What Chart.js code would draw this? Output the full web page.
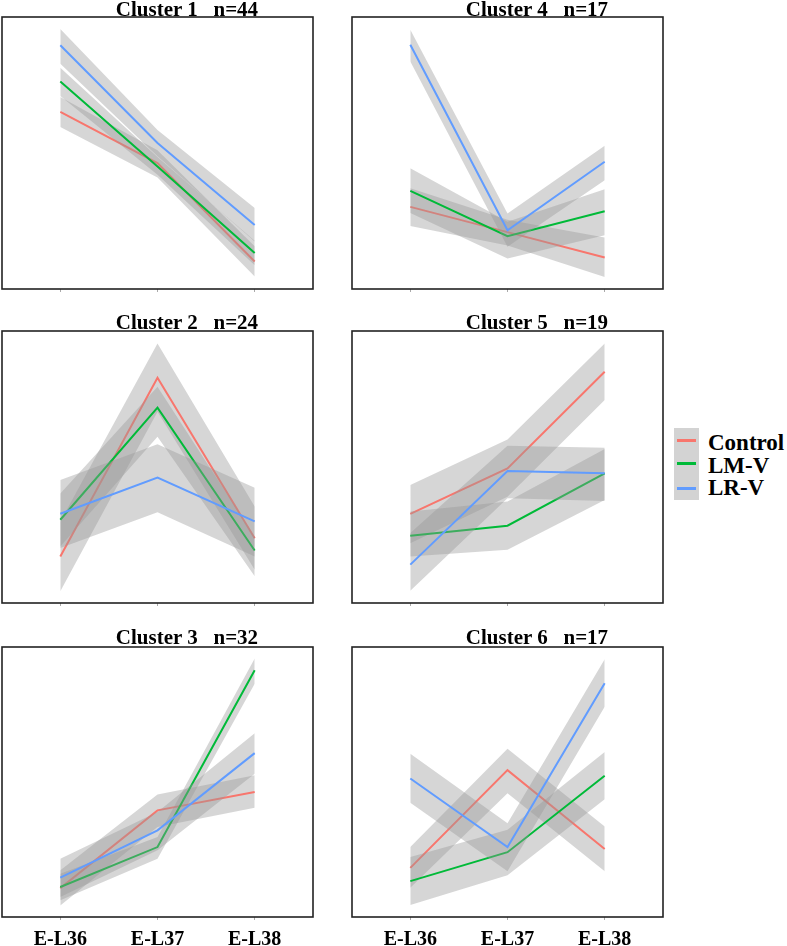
<!DOCTYPE html>
<html><head><meta charset="utf-8">
<script src="https://cdn.jsdelivr.net/npm/chart.js@4.4.1/dist/chart.umd.min.js"></script>
<style>
html,body{margin:0;padding:0;background:#fff;}
body{width:787px;height:946px;position:relative;overflow:hidden;font-family:"Liberation Serif","Times New Roman",serif;}
.title{position:absolute;font-weight:bold;font-size:21px;line-height:21px;white-space:pre;transform:translateX(-50%);color:#000;}
canvas{position:absolute;}
.lgtxt{position:absolute;font-weight:bold;font-size:23px;line-height:23px;white-space:pre;color:#000;}
.lgline{position:absolute;height:3px;width:19px;left:677px;}
</style></head><body>
<div id="root"></div>
<div style="position:absolute;left:674px;top:428px;width:25px;height:72px;background:rgb(211,211,211);"></div>
<div class="lgline" style="top:439px;background:#F8766D"></div>
<div class="lgline" style="top:462px;background:#00BA38"></div>
<div class="lgline" style="top:487px;background:#619CFF"></div>
<div class="lgtxt" style="left:708px;top:431px">Control</div>
<div class="lgtxt" style="left:708px;top:453.5px">LM-V</div>
<div class="lgtxt" style="left:708px;top:476px">LR-V</div>
<script>
// ---- data ----
const categories = ['E-L36', 'E-L37', 'E-L38'];
const seriesNames = ['Control', 'LM-V', 'LR-V'];
const clusterTitles = ['Cluster 1   n=44', 'Cluster 2   n=24', 'Cluster 3   n=32',
                       'Cluster 4   n=17', 'Cluster 5   n=19', 'Cluster 6   n=17'];

// each row: [Control, LM-V, LR-V], each value per category
const cluster1Mean  = [[6.51, 4.63, 1.01], [7.63, 4.50, 1.32], [8.96, 5.37, 2.35]];
const cluster1Lower = [[5.96, 4.10, 0.46], [7.10, 4.20, 0.87], [8.28, 4.88, 1.75]];
const cluster1Upper = [[7.06, 5.10, 1.57], [8.13, 4.85, 1.77], [9.56, 5.85, 2.98]];

const cluster2Mean  = [[1.71, 8.28, 2.38], [3.06, 7.18, 1.93], [3.28, 4.61, 3.00]];
const cluster2Lower = [[0.43, 7.03, 1.22], [2.08, 6.11, 0.98], [2.02, 3.34, 1.71]];
const cluster2Upper = [[3.00, 9.54, 3.55], [4.03, 7.95, 2.44], [4.52, 5.84, 4.24]];

const cluster3Mean  = [[1.07, 3.95, 4.63], [1.11, 2.59, 9.14], [1.46, 3.21, 6.07]];
const cluster3Lower = [[0.43, 3.33, 4.05], [0.62, 2.16, 8.64], [0.74, 2.47, 5.31]];
const cluster3Upper = [[1.73, 4.54, 5.25], [1.60, 2.96, 9.57], [2.16, 3.89, 6.81]];

const cluster4Mean  = [[3.02, 2.09, 1.16], [3.61, 1.94, 2.86], [8.98, 2.16, 4.68]];
const cluster4Lower = [[2.32, 1.60, 0.44], [2.79, 1.12, 1.98], [8.36, 1.55, 4.00]];
const cluster4Upper = [[3.70, 2.55, 1.89], [4.44, 2.47, 3.67], [9.53, 2.78, 5.27]];

const cluster5Mean  = [[3.28, 4.95, 8.50], [2.47, 2.84, 4.77], [1.41, 4.85, 4.77]];
const cluster5Lower = [[2.20, 3.91, 7.46], [1.71, 1.96, 3.79], [0.45, 3.85, 3.75]];
const cluster5Upper = [[4.34, 6.01, 9.54], [3.36, 3.73, 5.66], [2.57, 5.78, 5.71]];

const cluster6Mean  = [[1.82, 5.44, 2.52], [1.33, 2.40, 5.23], [5.13, 2.59, 8.66]];
const cluster6Lower = [[1.08, 4.58, 1.69], [0.44, 1.55, 4.36], [4.23, 1.69, 7.79]];
const cluster6Upper = [[2.59, 6.23, 3.35], [2.22, 3.23, 6.11], [6.05, 3.47, 9.55]];

// ---- layout / style ----
const seriesColors = ['#F8766D', '#00BA38', '#619CFF'];
const bandColor = 'rgba(153,153,153,0.4)';
const colLeft = [2, 352];
const rowTop = [17, 331, 647];
const rowH = [272, 272, 270];
const boxW = 311;
const titleCenterOffset = 185;
const titleBaseline = [16.5, 330, 645];

const panels = [
  {mean: cluster1Mean, lower: cluster1Lower, upper: cluster1Upper, col: 0, row: 0},
  {mean: cluster2Mean, lower: cluster2Lower, upper: cluster2Upper, col: 0, row: 1},
  {mean: cluster3Mean, lower: cluster3Lower, upper: cluster3Upper, col: 0, row: 2},
  {mean: cluster4Mean, lower: cluster4Lower, upper: cluster4Upper, col: 1, row: 0},
  {mean: cluster5Mean, lower: cluster5Lower, upper: cluster5Upper, col: 1, row: 1},
  {mean: cluster6Mean, lower: cluster6Lower, upper: cluster6Upper, col: 1, row: 2}
];

const boxPlugin = {
  id: 'boxBorder',
  afterDraw(chart) {
    const {ctx, chartArea: a} = chart;
    ctx.save();
    ctx.strokeStyle = '#222';
    ctx.lineWidth = 1.6;
    ctx.strokeRect(a.left, a.top, a.right - a.left, a.bottom - a.top);
    ctx.restore();
  }
};

const toXY = arr => arr.map((v, i) => ({x: i, y: v}));
const root = document.getElementById('root');
const PAD = 3;

panels.forEach((p, k) => {
  const showLabels = p.row === 2;
  const axisH = showLabels ? 30 : 6;
  const left = colLeft[p.col], top = rowTop[p.row], h = rowH[p.row];
  const cv = document.createElement('canvas');
  cv.width = boxW + 2 * PAD;
  cv.height = h + PAD + axisH;
  cv.style.left = (left - PAD) + 'px';
  cv.style.top = (top - PAD) + 'px';
  root.appendChild(cv);

  const t = document.createElement('div');
  t.className = 'title';
  t.textContent = clusterTitles[k];
  t.style.left = (left + titleCenterOffset) + 'px';
  t.style.top = (titleBaseline[p.row] - 17.6) + 'px';
  document.body.appendChild(t);

  const datasets = [];
  for (let s = 0; s < 3; s++) {
    const base = datasets.length;
    const ord = 2 * (3 - s);
    datasets.push({data: toXY(p.upper[s]), fill: {target: base + 1}, backgroundColor: bandColor,
      borderWidth: 0, pointRadius: 0, tension: 0, order: ord});
    datasets.push({data: toXY(p.lower[s]), fill: false, borderWidth: 0, pointRadius: 0, tension: 0, order: ord});
    datasets.push({label: seriesNames[s], data: toXY(p.mean[s]), fill: false, borderColor: seriesColors[s],
      borderWidth: 2, pointRadius: 0, tension: 0, order: ord - 1});
  }

  new Chart(cv, {
    type: 'line',
    data: {datasets},
    options: {
      responsive: false, animation: false, devicePixelRatio: 1,
      layout: {padding: {left: PAD, right: PAD, top: PAD, bottom: 0}},
      plugins: {legend: {display: false}, tooltip: {enabled: false}, filler: {drawTime: 'beforeDatasetDraw'}},
      scales: {
        x: {
          type: 'linear', min: -0.6, max: 2.6,
          afterBuildTicks: sc => { sc.ticks = [0, 1, 2].map(v => ({value: v})); },
          afterFit: sc => { sc.height = axisH; },
          ticks: {display: showLabels, callback: v => categories[v], color: '#000', padding: 8,
            maxRotation: 0, autoSkip: false,
            font: {family: 'Liberation Serif', weight: 'bold', size: 20}},
          grid: {drawOnChartArea: false, drawTicks: true, tickLength: 3, tickColor: '#aaa'},
          border: {display: false}
        },
        y: {display: false, min: 0, max: 10}
      }
    },
    plugins: [boxPlugin]
  });
});
</script>
</body></html>
